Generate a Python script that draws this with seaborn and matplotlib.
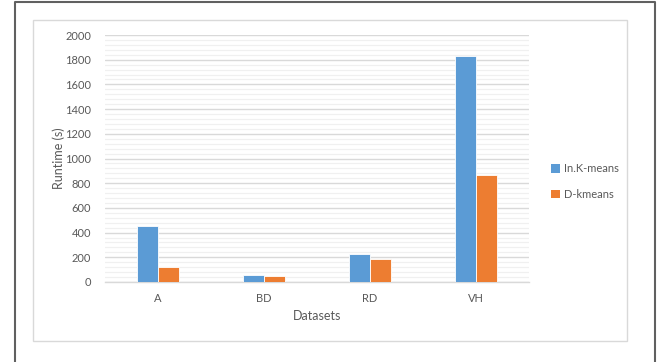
import matplotlib
matplotlib.use("Agg")
import matplotlib.pyplot as plt
from matplotlib.lines import Line2D
from matplotlib.patches import Rectangle
from matplotlib.ticker import MultipleLocator
import pandas as pd
import seaborn as sns

datasets = ["A", "BD", "RD", "VH"]
series_names = ["In.K-means", "D-kmeans"]
ink_means = [450, 60, 228, 1830]
d_kmeans = [118, 48, 186, 868]
colors = ["#5B9BD5", "#ED7D31"]

df = pd.DataFrame({
    "Datasets": datasets * 2,
    "Runtime": ink_means + d_kmeans,
    "Method": [series_names[0]] * len(datasets) + [series_names[1]] * len(datasets),
})

sns.set_theme(style="white")
plt.rcParams["font.family"] = ["Lato", "DejaVu Sans"]
text_color = "#595959"

W, H = 659, 362
fig = plt.figure(figsize=(W / 100, H / 100), dpi=100)

# plot area in pixel coordinates
x0, x1, y_top, y_bot = 105, 529, 35, 282
ax = fig.add_axes([x0 / W, 1 - y_bot / H, (x1 - x0) / W, (y_bot - y_top) / H])

sns.barplot(data=df, x="Datasets", y="Runtime", hue="Method",
            palette=colors, saturation=1, width=0.4, ax=ax,
            edgecolor="white", linewidth=0.6, legend=False, zorder=3)

ax.set_ylim(0, 2000)
ax.set_xlim(-0.5, len(datasets) - 0.5)
ax.yaxis.set_major_locator(MultipleLocator(200))
ax.yaxis.set_minor_locator(MultipleLocator(40))
ax.grid(axis="y", which="major", color="#d9d9d9", linewidth=1.0, zorder=0)
ax.grid(axis="y", which="minor", color="#f0f0f0", linewidth=0.9, zorder=0)
ax.grid(axis="x", visible=False)
ax.set_axisbelow(True)
for side in ["top", "right", "left"]:
    ax.spines[side].set_visible(False)
ax.spines["bottom"].set_color("#d9d9d9")
ax.spines["bottom"].set_linewidth(1.0)
ax.tick_params(axis="both", which="both", length=0, labelsize=8, colors=text_color)
ax.tick_params(axis="x", pad=8)
ax.tick_params(axis="y", pad=10)

ax.set_xlabel("Datasets", fontsize=9, color=text_color, labelpad=4)
ax.set_ylabel("Runtime (s)", fontsize=9, color=text_color, labelpad=0)

# legend
handles = [Rectangle((0, 0), 1, 1, facecolor=c, edgecolor="none") for c in colors]
fig.legend(handles, series_names, loc="upper left",
           bbox_to_anchor=(547 / W, 1 - 159 / H), frameon=False,
           fontsize=8, labelcolor=text_color, handlelength=0.8, handleheight=0.8,
           handletextpad=0.3, labelspacing=1.3, borderaxespad=0)

# chart area frame
fig.add_artist(Rectangle((32.5 / W, 1 - 341 / H), (627 - 32.5) / W, (341 - 20) / H,
                         transform=fig.transFigure, facecolor="none",
                         edgecolor="#d9d9d9", linewidth=1.0))
# outer frame (left, top, right)
fig.add_artist(Line2D([15 / W, 15 / W, 655 / W, 655 / W],
                      [0, 1 - 2 / H, 1 - 2 / H, 0],
                      transform=fig.transFigure, color="#606060", linewidth=1.5))

fig.savefig("out.png", dpi=100)
